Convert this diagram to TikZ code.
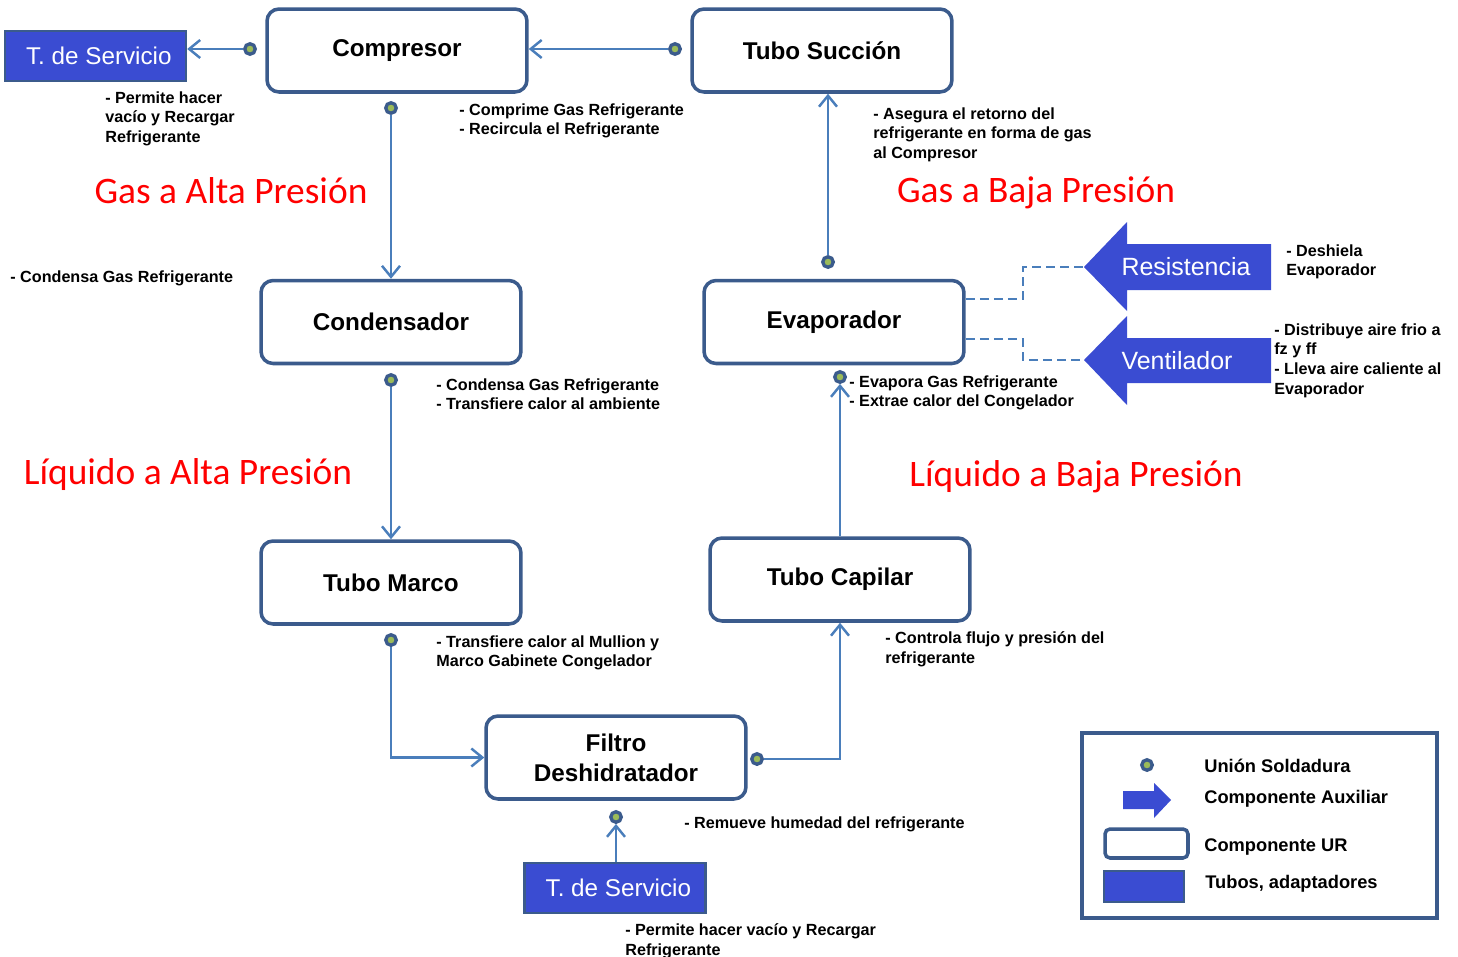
\documentclass[tikz,border=0pt]{standalone}
\usepackage{fontspec}
\setmainfont{Liberation Sans}
\newfontfamily\calibri{Carlito}
\usetikzlibrary{arrows.meta}

\definecolor{boxline}{HTML}{3B5B8C}
\definecolor{pipeblue}{HTML}{4A7EBB}
\definecolor{tubefill}{HTML}{3A4CD2}
\definecolor{jointgreen}{HTML}{9BBB59}

\tikzset{
  unit/.style={draw=boxline, line width=2pt, fill=white, rounded corners=0.24cm,
    minimum width=5.2cm, minimum height=1.66cm, align=center,
    font=\bfseries\fontsize{13.8}{17}\selectfont},
  tube/.style={draw=boxline, line width=1.4pt, fill=tubefill, text=white,
    minimum width=3.62cm, minimum height=1cm, font=\fontsize{13.8}{16}\selectfont},
  joint/.style={circle, draw=boxline, line width=1.9pt, fill=jointgreen,
    minimum size=0.21cm, inner sep=0pt},
  pipe/.style={draw=pipeblue, line width=1.4pt,
    -{Straight Barb[length=0.22cm, width=0.36cm]}},
  dashline/.style={draw=pipeblue, line width=1.3pt, dash pattern=on 5pt off 3pt},
  note/.style={anchor=north west, inner sep=0pt, align=left,
    font=\bfseries\fontsize{9.2}{11.3}\selectfont},
  state/.style={text=red, font=\calibri\fontsize{21.3}{24}\selectfont},
  legtext/.style={anchor=west, inner sep=0pt, font=\bfseries\fontsize{10.4}{12}\selectfont}
}

\begin{document}
\begin{tikzpicture}[x=0.02cm, y=-0.02cm]
\useasboundingbox (0,0) rectangle (1458,957);

% Components
\node[unit] (comp) at (397,50.5) {Compresor};
\node[unit] (succ) at (822,50.5) {Tubo Succión};
\node[unit] (cond) at (391,322) {Condensador};
\node[unit] (evap) at (834,322) {Evaporador};
\node[unit] (marco) at (391,582.5) {Tubo Marco};
\node[unit] (cap) at (840,579.5) {Tubo Capilar};
\node[unit] (filt) at (616,757.5) {Filtro\\Deshidratador};

% Service tubes
\node[tube] (tsv1) at (95.5,56) {\ T. de Servicio};
\node[tube] (tsv2) at (615,888) {\ T. de Servicio};

% Solder joints
\node[joint] (j1) at (250,49) {};
\node[joint] (j2) at (675,49) {};
\node[joint] (j3) at (391,108) {};
\node[joint] (j4) at (828,262) {};
\node[joint] (j5) at (391,380) {};
\node[joint] (j6) at (840,377) {};
\node[joint] (j7) at (391,640) {};
\node[joint] (j8) at (757,759) {};
\node[joint] (j9) at (616,817) {};

% Pipes
\draw[pipe] (j1) -- (j1 -| tsv1.east);
\draw[pipe] (j2) -- (j2 -| comp.east);
\draw[pipe] (j3) -- (cond);
\draw[pipe] (j4) -- (j4 |- succ.south);
\draw[pipe] (j5) -- (marco);
\draw[pipe] (cap) -- (j6);
\draw[pipe] (j7) |- (filt);
\draw[pipe] (j8) -| (cap);
\draw[pipe] (tsv2.north -| j9) -- (j9);

% Auxiliary components
\fill[tubefill] (1084,267) -- (1127,222) -- (1127,244) -- (1271,244) -- (1271,290)
  -- (1127,290) -- (1127,311) -- cycle;
\fill[tubefill] (1084,360) -- (1127,316) -- (1127,338) -- (1271,338) -- (1271,383)
  -- (1127,383) -- (1127,405) -- cycle;
\coordinate (restip) at (1084,267);
\coordinate (ventip) at (1084,360);
\node[text=white, font=\fontsize{14.2}{16}\selectfont] (res) at (1186,267) {Resistencia};
\node[text=white, font=\fontsize{14.2}{16}\selectfont] (vent) at (1177,361) {Ventilador};
\draw[dashline] (evap.east |- 0,299) -- (1023,299) |- (restip);
\draw[dashline] (evap.east |- 0,339) -- (1023,339) |- (ventip);

% States
\node[state] (s1) at (231,191) {Gas a Alta Presión};
\node[state] (s2) at (1036,193) {Gas a Baja Presión};
\node[state] (s3) at (188,475) {Líquido a Alta Presión};
\node[state] (s4) at (1076,477) {Líquido a Baja Presión};

% Notes
\node[note] (n1) at (105,91) {- Permite hacer\\vacío y Recargar\\Refrigerante};
\node[note] (n2) at (459,103) {- Comprime Gas Refrigerante\\- Recircula el Refrigerante};
\node[note] (n3) at (873,107) {- Asegura el retorno del\\refrigerante en forma de gas\\al Compresor};
\node[note] (n4) at (10,270) {- Condensa Gas Refrigerante};
\node[note] (n5) at (1286,244) {- Deshiela\\Evaporador};
\node[note] (n6) at (1274,323) {- Distribuye aire frio a\\fz y ff\\- Lleva aire caliente al\\Evaporador};
\node[note] (n7) at (436,378) {- Condensa Gas Refrigerante\\- Transfiere calor al ambiente};
\node[note] (n8) at (849,375) {- Evapora Gas Refrigerante\\- Extrae calor del Congelador};
\node[note] (n9) at (436,635) {- Transfiere calor al Mullion y\\Marco Gabinete Congelador};
\node[note] (n10) at (885,631) {- Controla flujo y presión del\\refrigerante};
\node[note] (n11) at (684,816) {- Remueve humedad del refrigerante};
\node[note] (n12) at (625,923) {- Permite hacer vacío y Recargar\\Refrigerante};

% Legend
\node[draw=boxline, line width=2pt, minimum width=7.1cm, minimum height=3.7cm] (legend) at (1259.5,825.5) {};
\node[joint] (lj) at (1147,765) {};
\fill[tubefill] (1123,791) -- (1154,791) -- (1154,783) -- (1171,800) -- (1154,818)
  -- (1154,809) -- (1123,809) -- cycle;
\node[draw=boxline, line width=2pt, fill=white, rounded corners=0.1cm,
  minimum width=1.66cm, minimum height=0.58cm] (lu) at (1146.5,843.5) {};
\node[draw=boxline, line width=1.4pt, fill=tubefill,
  minimum width=1.6cm, minimum height=0.62cm] (lt) at (1144,886.5) {};
\node[legtext] (l1) at (1204,766) {Unión Soldadura};
\node[legtext] (l2) at (1204,799) {Componente Auxiliar};
\node[legtext] (l3) at (1204,847) {Componente UR};
\node[legtext] (l4) at (1205,884) {Tubos, adaptadores};
\end{tikzpicture}
\end{document}
